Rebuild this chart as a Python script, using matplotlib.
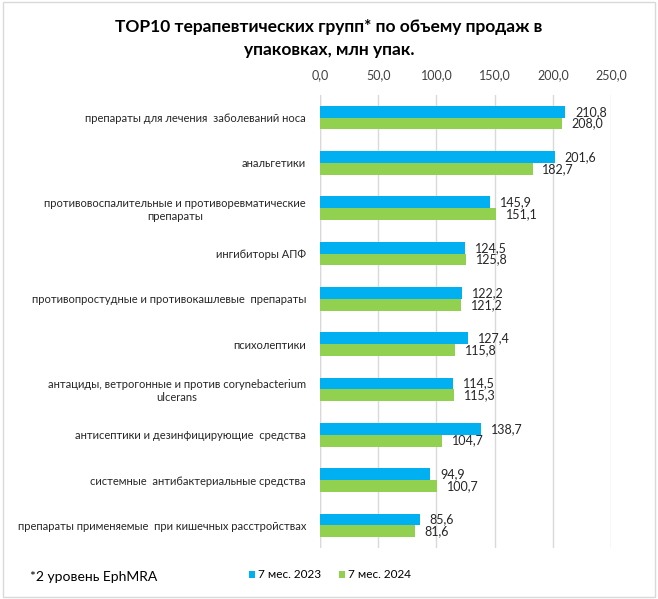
import matplotlib
matplotlib.use("Agg")
import matplotlib.pyplot as plt
import numpy as np
from matplotlib.patches import Rectangle

plt.rcParams['font.family'] = ['Lato', 'DejaVu Sans']

categories = [
    "препараты для лечения  заболеваний носа",
    "анальгетики",
    "противовоспалительные и противоревматические\nпрепараты",
    "ингибиторы АПФ",
    "противопростудные и противокашлевые  препараты",
    "психолептики",
    "антациды, ветрогонные и против corynebacterium\nulcerans",
    "антисептики и дезинфицирующие  средства",
    "системные  антибактериальные средства",
    "препараты применяемые  при кишечных расстройствах",
]
values_2023 = [210.8, 201.6, 145.9, 124.5, 122.2, 127.4, 114.5, 138.7, 94.9, 85.6]
values_2024 = [208.0, 182.7, 151.1, 125.8, 121.2, 115.8, 115.3, 104.7, 100.7, 81.6]
series_names = ["7 мес. 2023", "7 мес. 2024"]
x_ticks = [0, 50, 100, 150, 200, 250]

c23 = "#00B0F0"
c24 = "#92D050"

fig = plt.figure(figsize=(6.58, 5.99), dpi=100)
fig.patches.append(Rectangle((0.004, 0.004), 0.992, 0.992, transform=fig.transFigure,
                             fill=False, edgecolor="#D9D9D9", linewidth=1))

ax = fig.add_axes([320/658, 1-548/599, 291/658, 453/599])
y = np.arange(len(categories))
h = 0.26
ax.barh(y - h/2, values_2023, height=h, color=c23, label=series_names[0], zorder=3)
ax.barh(y + h/2, values_2024, height=h, color=c24, label=series_names[1], zorder=3)

for yi, v in zip(y, values_2023):
    ax.annotate(f"{v:.1f}".replace(".", ","), (v, yi - h/2), xytext=(7, 0),
                textcoords="offset points", va="center", ha="left", fontsize=9, color="#262626")
for yi, v in zip(y, values_2024):
    ax.annotate(f"{v:.1f}".replace(".", ","), (v, yi + h/2), xytext=(7, 0),
                textcoords="offset points", va="center", ha="left", fontsize=9, color="#262626")

ax.set_xlim(0, 250)
ax.set_ylim(len(categories) - 0.5, -0.5)
ax.set_xticks(x_ticks)
ax.set_xticklabels([f"{t:.1f}".replace(".", ",") for t in x_ticks], fontsize=9, color="#404040")
ax.xaxis.tick_top()
ax.tick_params(axis='x', length=0, pad=10)
ax.set_yticks(y)
ax.set_yticklabels(categories, fontsize=8, color="#262626", multialignment="center")
ax.tick_params(axis='y', length=0, pad=10)
ax.grid(axis='x', color="#D9D9D9", linewidth=1, zorder=0)
for s in ax.spines.values():
    s.set_visible(False)
ax.axvline(0, color="#D9D9D9", linewidth=1, zorder=1)

fig.text(0.5, 1-27/599, "TOP10 терапевтических групп* по объему продаж в", ha="center", va="center",
         fontsize=12.5, fontweight="bold", color="#000000")
fig.text(0.5, 1-50/599, "упаковках, млн упак.", ha="center", va="center",
         fontsize=12.5, fontweight="bold", color="#000000")

fig.text(30/658, 1-577/599, "*2 уровень EphMRA", ha="left", va="center", fontsize=10, color="#000000")

handles, labels = ax.get_legend_handles_labels()
fig.legend(handles, labels, loc="center", bbox_to_anchor=(330/658, 1-575/599), ncol=2,
           frameon=False, fontsize=8.5, handlelength=0.5, handleheight=0.5, handletextpad=0.3,
           columnspacing=1.5)

fig.savefig("out.png", dpi=100)
